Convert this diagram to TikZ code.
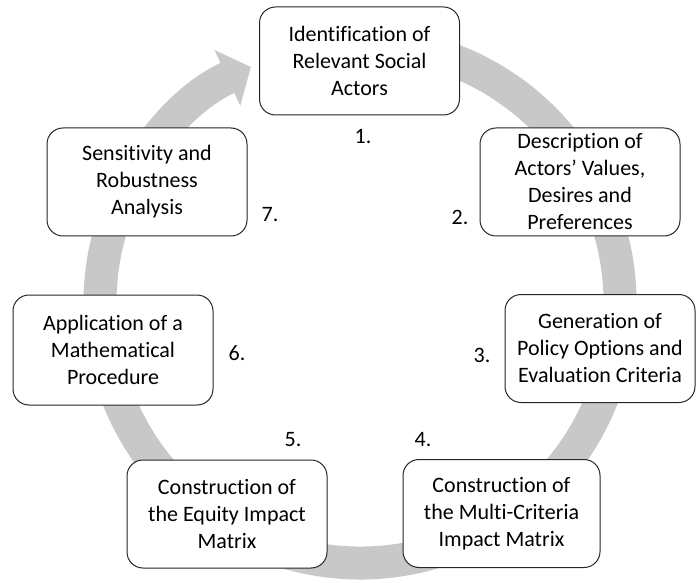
\documentclass[tikz,border=0pt]{standalone}
\usepackage{fontspec}
\setmainfont{Carlito}[Ligatures=NoCommon]
\usetikzlibrary{arrows.meta}
\definecolor{ringgray}{RGB}{200,200,200}
\begin{document}
\begin{tikzpicture}[x=1pt,y=1pt,
	stepbox/.style={draw=black!85,line width=1pt,fill=white,rounded corners=16pt,
		minimum width=200pt,minimum height=108pt,align=center,inner sep=0pt,
		font=\fontsize{22}{27}\selectfont},
	numlab/.style={font=\fontsize{22}{27}\selectfont}]
	\useasboundingbox (0,0) rectangle (696,582);
	% the grey cycle behind the steps
	\coordinate (c) at (360,279);
	\draw[ringgray,line width=33pt,-{Triangle[width=60pt,length=26pt]}]
	([shift={(80:260pt)}]c) arc[start angle=80,end angle=-245.2,radius=260pt];
	% steps
	\node[stepbox] (s1) at (359.5,521) {Identification of\\Relevant Social\\Actors};
	\node[stepbox] (s2) at (580,400) {Description of\\Actors’ Values,\\Desires and\\Preferences};
	\node[stepbox,minimum width=190pt] (s3) at (600,233.5) {Generation of\\Policy Options and\\Evaluation Criteria};
	\node[stepbox,minimum width=197pt] (s4) at (501.5,68.5) {Construction of\\the Multi-Criteria\\Impact Matrix};
	\node[stepbox] (s5) at (227,68) {Construction of\\the Equity Impact\\Matrix};
	\node[stepbox,minimum height=110pt] (s6) at (113,232) {Application of a\\Mathematical\\Procedure};
	\node[stepbox] (s7) at (147,400) {Sensitivity and\\Robustness\\Analysis};
	% numbers
	\foreach \k/\p in {1/{363,445},2/{460,365},3/{482,227},4/{423,142},5/{293,142},6/{237,229},7/{270,367}}
	\node[numlab] (n\k) at (\p) {\k.};
\end{tikzpicture}
\end{document}
